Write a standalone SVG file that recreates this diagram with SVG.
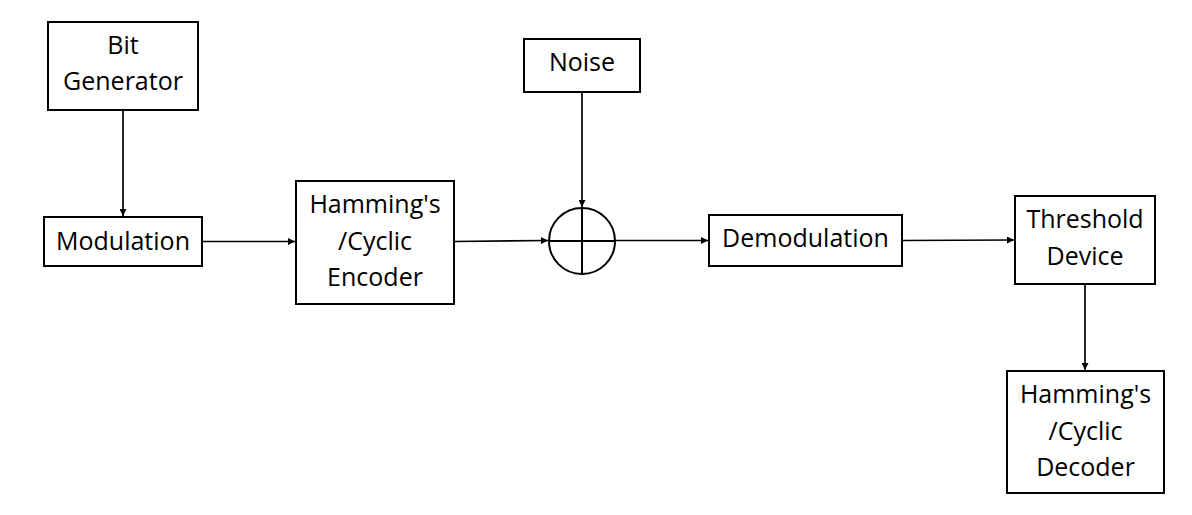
<svg xmlns="http://www.w3.org/2000/svg" width="1192" height="515" viewBox="0 0 1192 515">
<defs>
<marker id="arr" viewBox="0 0 10 10" refX="10" refY="5" markerWidth="8" markerHeight="7" markerUnits="userSpaceOnUse" orient="auto">
<path d="M0,0 L10,5 L0,10 z" fill="#000"/>
</marker>
<style>
.box{fill:#fff;stroke:#000;stroke-width:2}
.lbl{font-family:"Open Sans","Noto Sans",sans-serif;font-size:25px;fill:#000;text-anchor:middle}
.con{stroke:#000;stroke-width:1.7;fill:none;marker-end:url(#arr)}
</style>
</defs>
<rect width="1192" height="515" fill="#fff"/>
<g id="connectors">
<line class="con" x1="123" y1="110" x2="123" y2="216"/>
<line class="con" x1="202" y1="241.5" x2="295" y2="241.5"/>
<line class="con" x1="454" y1="241.5" x2="548" y2="240.5"/>
<line class="con" x1="582" y1="92" x2="582" y2="207"/>
<line class="con" x1="615" y1="240.5" x2="708" y2="240.5"/>
<line class="con" x1="902" y1="240.5" x2="1014" y2="240"/>
<line class="con" x1="1085" y1="284" x2="1085" y2="370"/>
</g>
<g id="bit-generator">
<rect class="box" x="48" y="22" width="150" height="88"/>
<text class="lbl" x="123" y="54">Bit</text>
<text class="lbl" x="123" y="90">Generator</text>
</g>
<g id="modulation">
<rect class="box" x="44" y="217" width="158" height="49"/>
<text class="lbl" x="123" y="250">Modulation</text>
</g>
<g id="encoder">
<rect class="box" x="296" y="181" width="158" height="123"/>
<text class="lbl" x="375" y="213">Hamming's</text>
<text class="lbl" x="375" y="250">/Cyclic</text>
<text class="lbl" x="375" y="286">Encoder</text>
</g>
<g id="noise">
<rect class="box" x="524" y="39" width="116" height="53"/>
<text class="lbl" x="582" y="71">Noise</text>
</g>
<g id="adder">
<circle cx="582" cy="241" r="33" fill="#fff" stroke="#000" stroke-width="2"/>
<line x1="549" y1="241" x2="615" y2="241" stroke="#000" stroke-width="2"/>
<line x1="582" y1="208" x2="582" y2="274" stroke="#000" stroke-width="2"/>
</g>
<g id="demodulation">
<rect class="box" x="709" y="215" width="193" height="51"/>
<text class="lbl" x="805.5" y="247">Demodulation</text>
</g>
<g id="threshold">
<rect class="box" x="1015" y="196" width="140" height="88"/>
<text class="lbl" x="1085" y="228">Threshold</text>
<text class="lbl" x="1085" y="265">Device</text>
</g>
<g id="decoder">
<rect class="box" x="1007" y="371" width="157" height="122"/>
<text class="lbl" x="1085.5" y="403">Hamming's</text>
<text class="lbl" x="1085.5" y="440">/Cyclic</text>
<text class="lbl" x="1085.5" y="476">Decoder</text>
</g>
</svg>
